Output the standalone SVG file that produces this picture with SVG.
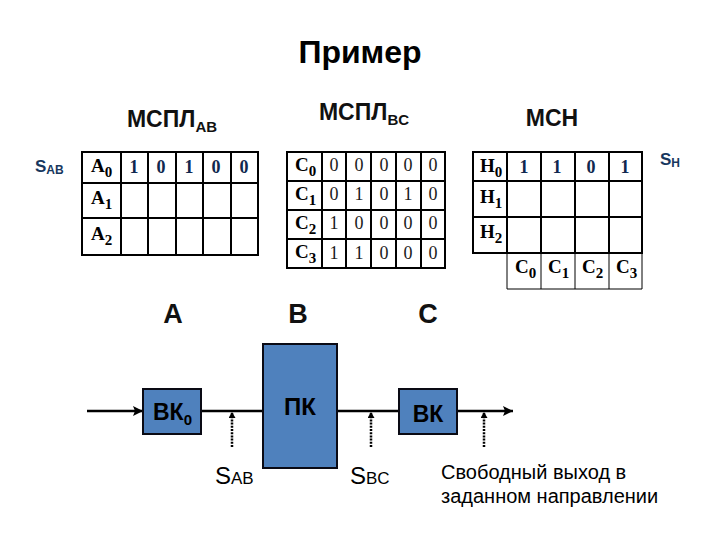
<svg xmlns="http://www.w3.org/2000/svg" width="720" height="540" viewBox="0 0 720 540">
<style>
text{font-family:"Liberation Sans",Arial,sans-serif;fill:#000}
.h{font-size:23px;font-weight:bold;text-anchor:middle;fill:#111}
.l{font-weight:bold;fill:#111}
.s{font-family:"Liberation Serif","Times New Roman",serif;font-weight:bold;font-size:19px}
.v{font-family:"Liberation Serif","Times New Roman",serif;font-size:18px;text-anchor:middle;fill:#1a1a1a}
.b{font-family:"Liberation Serif","Times New Roman",serif;font-weight:bold;font-size:18px;text-anchor:middle;fill:#10284f}
.sig{font-weight:bold;fill:#17375e;font-size:17px}
.g{fill:none;stroke:#000;stroke-width:2}
.t{fill:none;stroke:#000;stroke-width:1}
.n{fill:#4f81bd;stroke:#0a0a14;stroke-width:2}
.w{stroke:#000;stroke-width:2.5;fill:none}
.d{stroke:#000;stroke-width:2.5;stroke-dasharray:2 1.2;fill:none}
</style>
<defs>
<marker id="a" markerUnits="userSpaceOnUse" markerWidth="12" markerHeight="10" refX="10" refY="5" orient="auto"><path d="M0 0L10 5L0 10L2 5Z" fill="#000"/></marker>
<marker id="b" markerUnits="userSpaceOnUse" markerWidth="7" markerHeight="7" refX="6" refY="3.5" orient="auto"><path d="M0 0L6 3.5L0 7Z" fill="#000"/></marker>
</defs>
<text x="360" y="63" font-size="32" font-weight="bold" text-anchor="middle" fill="#111">Пример</text>
<text x="172" y="127" class="h">МСПЛ<tspan font-size="15" dy="5">AB</tspan></text>
<text x="364" y="120" class="h">МСПЛ<tspan font-size="15" dy="5">BC</tspan></text>
<text x="552" y="126" class="h">МСН</text>
<text x="35" y="172" class="sig">S<tspan font-size="12" dy="2">AB</tspan></text>
<text x="660" y="165" class="sig">S<tspan font-size="12" dy="2">H</tspan></text>

<g id="table-ab">
<path class="g" d="M82 152H258V255H82ZM121 152V255M148 152V255M176 152V255M203 152V255M231 152V255M82 183H258M82 218H258"/>
<text class="s" x="91" y="172">A<tspan font-size="15" dy="5">0</tspan></text>
<text class="s" x="91" y="204">A<tspan font-size="15" dy="5">1</tspan></text>
<text class="s" x="91" y="240">A<tspan font-size="15" dy="5">2</tspan></text>
<text class="b" x="134" y="173">1</text><text class="b" x="161" y="173">0</text><text class="b" x="189" y="173">1</text><text class="b" x="216" y="173">0</text><text class="b" x="244" y="173">0</text>
</g>

<g id="table-bc">
<path class="g" d="M287 152H445V268H287ZM322 152V268M346 152V268M371 152V268M396 152V268M421 152V268M287 181H445M287 210H445M287 239H445"/>
<text class="s" x="295" y="171">C<tspan font-size="15" dy="5">0</tspan></text>
<text class="s" x="295" y="200">C<tspan font-size="15" dy="5">1</tspan></text>
<text class="s" x="295" y="229">C<tspan font-size="15" dy="5">2</tspan></text>
<text class="s" x="295" y="258">C<tspan font-size="15" dy="5">3</tspan></text>
<text class="v" x="334" y="171">0</text><text class="v" x="359" y="171">0</text><text class="v" x="384" y="171">0</text><text class="v" x="408" y="171">0</text><text class="v" x="433" y="171">0</text>
<text class="v" x="334" y="200">0</text><text class="v" x="359" y="200">1</text><text class="v" x="384" y="200">0</text><text class="v" x="408" y="200">1</text><text class="v" x="433" y="200">0</text>
<text class="v" x="334" y="229">1</text><text class="v" x="359" y="229">0</text><text class="v" x="384" y="229">0</text><text class="v" x="408" y="229">0</text><text class="v" x="433" y="229">0</text>
<text class="v" x="334" y="259">1</text><text class="v" x="359" y="259">1</text><text class="v" x="384" y="259">0</text><text class="v" x="408" y="259">0</text><text class="v" x="433" y="259">0</text>
</g>

<g id="table-h">
<path class="g" d="M473 152H642V253H473ZM507 152V253M541 152V253M575 152V253M609 152V253M473 181H642M473 217H642"/>
<path class="t" d="M507 253V289H642V253M541 253V289M575 253V289M609 253V289"/>
<text class="s" x="480" y="172">H<tspan font-size="15" dy="5">0</tspan></text>
<text class="s" x="480" y="203">H<tspan font-size="15" dy="5">1</tspan></text>
<text class="s" x="480" y="238">H<tspan font-size="15" dy="5">2</tspan></text>
<text class="b" x="524" y="173">1</text><text class="b" x="557" y="173">1</text><text class="b" x="591" y="173">0</text><text class="b" x="625" y="173">1</text>
<text class="s" x="515" y="273">C<tspan font-size="15" dy="5">0</tspan></text>
<text class="s" x="548" y="273">C<tspan font-size="15" dy="5">1</tspan></text>
<text class="s" x="582" y="273">C<tspan font-size="15" dy="5">2</tspan></text>
<text class="s" x="616" y="273">C<tspan font-size="15" dy="5">3</tspan></text>
</g>

<text x="173" y="323" font-size="27" class="l" text-anchor="middle">A</text>
<text x="298" y="323" font-size="27" class="l" text-anchor="middle">B</text>
<text x="428" y="323" font-size="27" class="l" text-anchor="middle">C</text>

<g id="connectors">
<path class="w" d="M87 411H143" marker-end="url(#a)"/>
<path class="w" d="M201 411H263M337 411H399"/>
<path class="w" d="M457 411H513" marker-end="url(#a)"/>
<path class="d" d="M232 447V412" marker-end="url(#b)"/>
<path class="d" d="M371 447V412" marker-end="url(#b)"/>
<path class="d" d="M484 447V412" marker-end="url(#b)"/>
</g>

<g id="vk0"><rect class="n" x="143" y="389" width="58" height="45"/>
<text x="153" y="420" font-size="23" font-weight="bold" fill="#0f1a33">ВК<tspan font-size="15" dy="5">0</tspan></text></g>
<g id="pk"><rect class="n" x="263" y="344" width="74" height="124"/>
<text x="300" y="415" font-size="24" font-weight="bold" text-anchor="middle" fill="#0f1a33">ПК</text></g>
<g id="vk"><rect class="n" x="399" y="389" width="58" height="45"/>
<text x="428" y="422" font-size="23" font-weight="bold" text-anchor="middle" fill="#0f1a33">ВК</text></g>

<text x="215" y="484" font-size="24" fill="#111">S<tspan font-size="17">AB</tspan></text>
<text x="350" y="484" font-size="24" fill="#111">S<tspan font-size="17">BC</tspan></text>
<text x="441" y="479" font-size="20">Свободный выход в</text>
<text x="441" y="503" font-size="20">заданном направлении</text>
</svg>
